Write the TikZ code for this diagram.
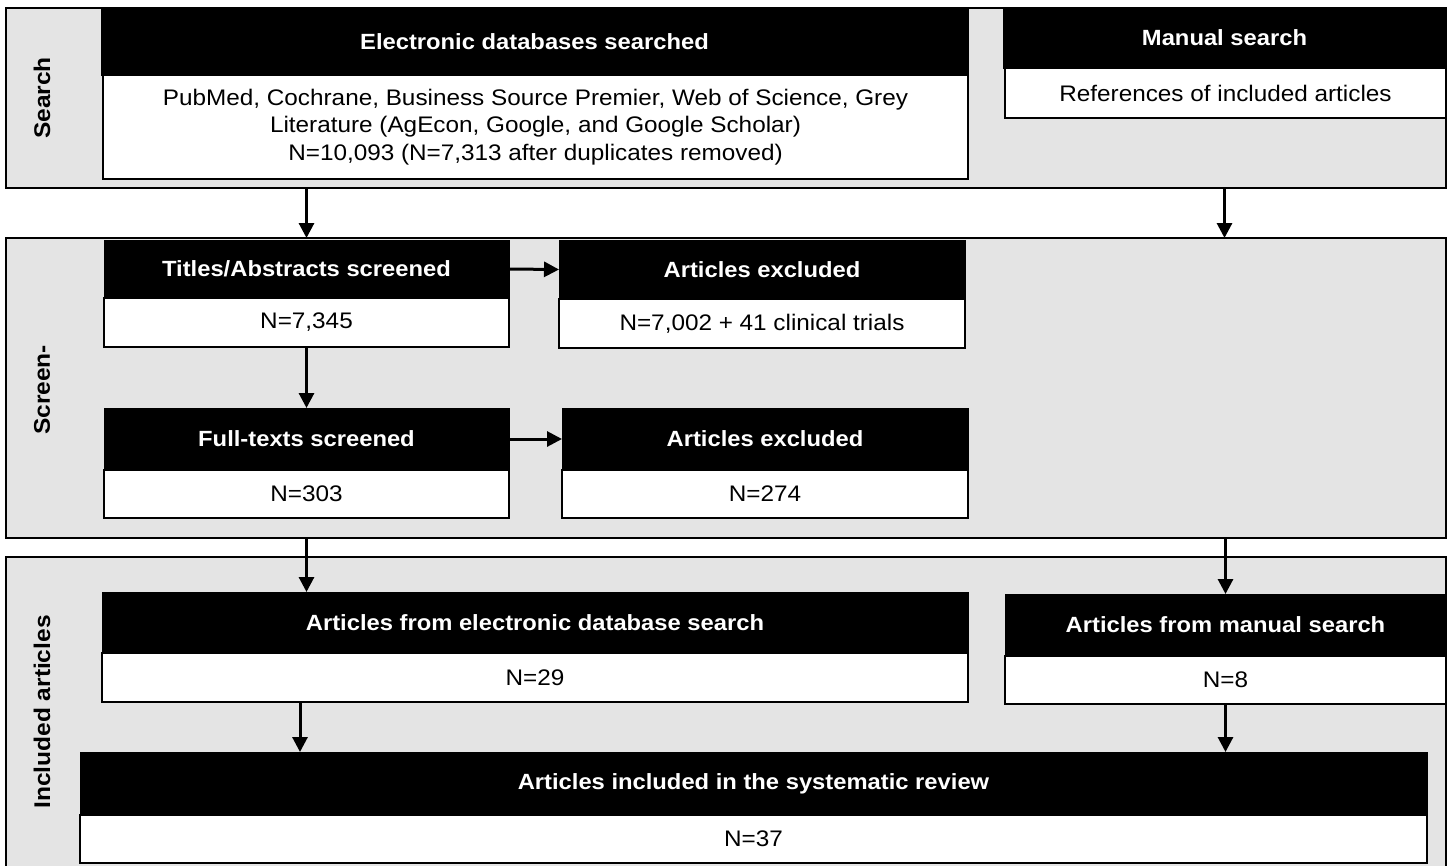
\documentclass[tikz,border=0pt]{standalone}
\usepackage{fontspec}
\setmainfont{Liberation Sans}[FakeStretch=1.08]
\usetikzlibrary{arrows.meta}
\definecolor{panelgray}{HTML}{E4E4E4}

\begin{document}
\begin{tikzpicture}[x=1pt,y=-1pt,
  panel/.style={draw=black, line width=2pt, fill=panelgray, inner sep=0pt, outer sep=0pt, anchor=north west},
  head/.style={fill=black, draw=black, line width=1pt, text=white,
    font=\bfseries\fontsize{22}{26}\selectfont, inner sep=0pt, outer sep=0pt, anchor=north west},
  body/.style={fill=white, draw=black, line width=2pt,
    font=\fontsize{22.5}{27.5}\selectfont, align=center, inner sep=0pt, outer sep=0pt, anchor=north west},
  lbl/.style={rotate=90, font=\bfseries\fontsize{22.7}{27}\selectfont},
  arr/.style={-{Triangle[width=15pt,length=15pt]}, line width=3pt}
]
\clip (0,0) rectangle (1450,865);
\fill[white] (0,0) rectangle (1450,865);

% ---------- Search ----------
\node[panel, minimum width=1440pt, minimum height=180pt] (search) at (6,8) {};
\node[head, minimum width=867pt, minimum height=67pt] (edbh) at (101,8) {Electronic databases searched};
\node[body, minimum width=865pt, minimum height=104pt] (edb) at (103,75)
  {PubMed, Cochrane, Business Source Premier, Web of Science, Grey\\
   Literature (AgEcon, Google, and Google Scholar)\\
   N=10,093 (N=7,313 after duplicates removed)};
\node[head, minimum width=443pt, minimum height=60pt] (msh) at (1003,8) {Manual search};
\node[body, minimum width=441pt, minimum height=50pt] (ms) at (1005,68) {References of included articles};
\node[lbl] (lsearch) at (42,98) {Search};

% ---------- Screening ----------
\node[panel, minimum width=1440pt, minimum height=300pt] (screen) at (6,238) {};
\node[head, minimum width=405pt, minimum height=58pt] (tah) at (104,240) {Titles/Abstracts screened};
\node[body, minimum width=405pt, minimum height=49pt] (ta) at (104,298) {N=7,345};
\node[head, minimum width=406pt, minimum height=59pt] (ex1h) at (559,240) {Articles excluded};
\node[body, minimum width=406pt, minimum height=49pt] (ex1) at (559,299) {N=7,002 + 41 clinical trials};
\node[head, minimum width=405pt, minimum height=62pt] (fth) at (104,408) {Full-texts screened};
\node[body, minimum width=405pt, minimum height=48pt] (ft) at (104,470) {N=303};
\node[head, minimum width=406pt, minimum height=62pt] (ex2h) at (562,408) {Articles excluded};
\node[body, minimum width=406pt, minimum height=48pt] (ex2) at (562,470) {N=274};
\node[lbl] (lscreen) at (42,390) {Screen-};

% ---------- Included ----------
\node[panel, minimum width=1440pt, minimum height=320pt] (incl) at (6,557) {};
\node[head, minimum width=866pt, minimum height=61pt] (aeh) at (102,592) {Articles from electronic database search};
\node[body, minimum width=866pt, minimum height=49pt] (ae) at (102,653) {N=29};
\node[head, minimum width=441pt, minimum height=62pt] (amh) at (1005,594) {Articles from manual search};
\node[body, minimum width=441pt, minimum height=48pt] (am) at (1005,656) {N=8};
\node[head, minimum width=1347pt, minimum height=63pt] (finh) at (80,752) {Articles included in the systematic review};
\node[body, minimum width=1347pt, minimum height=48pt] (fin) at (80,815) {N=37};
\node[lbl] (lincl) at (42,712) {Included articles};

% ---------- Connectors ----------
\draw[arr] (tah.north |- search.south) -- (tah.north |- screen.north);
\draw[arr] (msh.north |- search.south) -- (msh.north |- screen.north);
\draw[arr] (tah.east) -- (ex1h.west);
\draw[arr] (ta.south) -- (fth.north);
\draw[arr] (fth.east) -- (ex2h.west);
\draw[arr] (tah.north |- screen.south) -- (tah.north |- aeh.north);
\draw[arr] (amh.north |- screen.south) -- (amh.north);
\coordinate (aeout) at ([xshift=198pt]ae.south west);
\draw[arr] (aeout) -- (aeout |- finh.north);
\draw[arr] (am.south) -- (am.south |- finh.north);
\end{tikzpicture}
\end{document}
